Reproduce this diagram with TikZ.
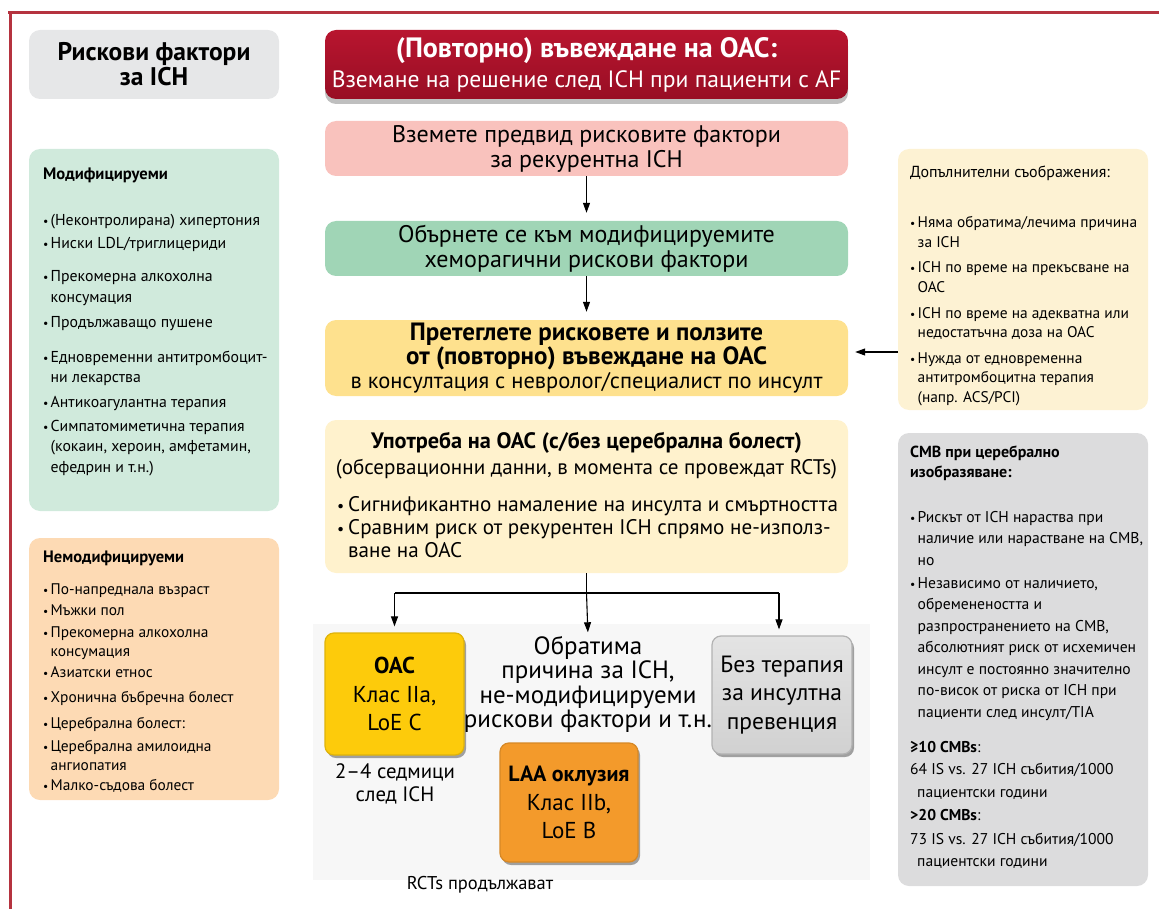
\documentclass[tikz,border=0pt]{standalone}
\usepackage{fontspec}
\setmainfont{PT Sans}
\usetikzlibrary{arrows.meta,shadows,calc}

\definecolor{framered}{HTML}{B5333F}
\definecolor{labelgray}{HTML}{E6E7E8}
\definecolor{titletop}{HTML}{B8152F}
\definecolor{titlebot}{HTML}{980E24}
\definecolor{pinkbox}{HTML}{F9C2BD}
\definecolor{greenbox}{HTML}{A0D5B6}
\definecolor{yellowbox}{HTML}{FEE18E}
\definecolor{creambox}{HTML}{FFF2CD}
\definecolor{mintbox}{HTML}{D0EADC}
\definecolor{peachbox}{HTML}{FDDAB4}
\definecolor{notebox}{HTML}{FDF2D3}
\definecolor{cmbbox}{HTML}{DCDCDD}
\definecolor{goldbox}{HTML}{FDCB0B}
\definecolor{orangebox}{HTML}{F39A2B}
\definecolor{tilegray}{HTML}{D1D1D1}

% bullet followed by a left-aligned block of lines
\newcommand\bitem[1]{\makebox[7.5pt][l]{\scalebox{0.75}{•}}\begin{tabular}[t]{@{}l@{}}#1\end{tabular}}
\newcommand\bigitem[1]{\makebox[11pt][l]{\scalebox{0.75}{•}}\begin{tabular}[t]{@{}l@{}}#1\end{tabular}}

\begin{document}
\begin{tikzpicture}[x=1pt,y=-1pt,
  panel/.style={rounded corners=11pt, inner sep=0pt, align=center},
  tile/.style={rounded corners=9pt, inner sep=0pt, align=center, line width=1.2pt,
    drop shadow={shadow xshift=2pt, shadow yshift=-3pt, opacity=0.35, fill=black}},
  listtext/.style={anchor=base west, inner sep=0pt, align=left},
  arr/.style={-{Triangle[length=10pt,width=7pt]}, line width=1.1pt},
  plain/.style={line width=1.1pt},
]
\useasboundingbox (0,0) rectangle (1159,909);

% page frame
\draw[framered, line width=3pt] (8,13) -- (1159,13);
\draw[framered, line width=3pt] (10,13) -- (10,909);

% soft backdrop behind the outcome tiles
\fill[black!3] (313,624) rectangle (870,880);

% ---------------- left column ----------------
\node[panel, fill=labelgray, minimum width=250pt, minimum height=69pt,
  font=\fontsize{25.5}{25}\selectfont\bfseries] (rf) at (154,64.5) {Рискови фактори\\за ICH};

\node[panel, fill=mintbox, minimum width=250pt, minimum height=362pt] (mod) at (154,330) {};
\begin{scope}[every node/.style={listtext, font=\fontsize{15.8}{20.5}\selectfont}]
\node (modh) at (43,180) {\fontsize{16.6}{20}\bfseries Модифицируеми};
\node (m1) at (43,226) {\bitem{(Неконтролирана) хипертония}};
\node (m2) at (43,249) {\bitem{Ниски LDL/триглицериди}};
\node (m3) at (43,282) {\bitem{Прекомерна алкохолна\\консумация}};
\node (m4) at (43,327) {\bitem{Продължаващо пушене}};
\node (m5) at (43,362) {\bitem{Едновременни антитромбоцит-\\ни лекарства}};
\node (m6) at (43,407) {\bitem{Антикоагулантна терапия}};
\node (m7) at (43,431) {\bitem{Симпатомиметична терапия\\(кокаин, хероин, амфетамин,\\ефедрин и т.н.)}};
\end{scope}

\node[panel, fill=peachbox, minimum width=250pt, minimum height=262pt] (nonmod) at (154,669) {};
\begin{scope}[every node/.style={listtext, font=\fontsize{15.4}{19}\selectfont}]
\node (nonh) at (43,562) {\fontsize{16.5}{20}\bfseries Немодифицируеми};
\node (n1) at (43,594) {\bitem{По-напреднала възраст}};
\node (n2) at (43,615) {\bitem{Мъжки пол}};
\node (n3) at (43,637) {\bitem{Прекомерна алкохолна\\консумация}};
\node (n4) at (43,677) {\bitem{Азиатски етнос}};
\node (n5) at (43,702) {\bitem{Хронична бъбречна болест}};
\node (n6) at (43,728) {\bitem{Церебрална болест:}};
\node (n7) at (43,751) {\bitem{Церебрална амилоидна\\ангиопатия}};
\node (n8) at (43,790) {\bitem{Малко-съдова болест}};
\end{scope}

% ---------------- main column ----------------
\node[panel, top color=titletop, bottom color=titlebot, text=white,
  minimum width=523pt, minimum height=69pt,
  drop shadow={shadow xshift=0pt, shadow yshift=-5pt, opacity=0.25, fill=black},
  font=\fontsize{23.6}{30}\selectfont] (title) at (586.5,64.5)
  {{\fontsize{28}{30}\bfseries (Повторно) въвеждане на ОАС:}\\Вземане на решение след ICH при пациенти с AF};

\node[panel, fill=pinkbox, minimum width=523pt, minimum height=55pt,
  font=\fontsize{24}{25}\selectfont] (pink) at (586.5,148.5)
  {Вземете предвид рисковите фактори\\за рекурентна ICH};

\node[panel, fill=greenbox, minimum width=523pt, minimum height=55pt,
  font=\fontsize{24}{25}\selectfont] (modify) at (586.5,248.5)
  {Обърнете се към модифицируемите\\хеморагични рискови фактори};

\node[panel, fill=yellowbox, minimum width=523pt, minimum height=76pt,
  font=\fontsize{22.5}{24}\selectfont] (weigh) at (586.5,358)
  {{\fontsize{25}{24}\bfseries Претеглете рисковете и ползите}\\{\fontsize{25}{24}\bfseries от (повторно) въвеждане на ОАС}\\в консултация с невролог/специалист по инсулт};

\node[panel, fill=creambox, minimum width=523pt, minimum height=153pt] (usage) at (586.5,496.5) {};
\begin{scope}[every node/.style={inner sep=0pt, font=\fontsize{21.1}{23}\selectfont}]
\node[anchor=base] (useh) at (586.5,448) {\fontsize{22.3}{23}\bfseries Употреба на ОАС (с/без церебрална болест)};
\node[anchor=base] (uses) at (586.5,474) {(обсервационни данни, в момента се провеждат RCTs)};
\node[listtext] (u1) at (337,511) {\bigitem{Сигнификантно намаление на инсулта и смъртността}};
\node[listtext] (u2) at (337,534) {\bigitem{Сравним риск от рекурентен ICH спрямо не-използ-\\ване на ОАС}};
\end{scope}

% ---------------- outcomes ----------------
\node[tile, fill=goldbox, draw=goldbox!88!black, minimum width=139pt, minimum height=122pt,
  font=\fontsize{23}{28.5}\selectfont] (oac) at (394.5,694)
  {{\fontsize{23}{28.5}\bfseries ОАС}\\Клас IIa,\\LoE C};

\node[inner sep=0pt, align=center, font=\fontsize{25}{24.3}\selectfont] (revers) at (588,684.5)
  {Обратима\\причина за ICH,\\не-модифицируеми\\рискови фактори и т.н.};

\node[tile, top color=tilegray!60, bottom color=tilegray, draw=tilegray!85!black, minimum width=140pt, minimum height=118pt,
  font=\fontsize{23.5}{28.5}\selectfont] (notx) at (782,695)
  {Без терапия\\за инсултна\\превенция};

\node[inner sep=0pt, align=center, font=\fontsize{20.8}{23}\selectfont] (weeks) at (395,783.5)
  {2–4 седмици\\след ICH};

\node[tile, fill=orangebox, draw=orangebox!88!black, minimum width=138pt, minimum height=119pt,
  font=\fontsize{23}{28.5}\selectfont] (laa) at (569,802.5)
  {{\fontsize{22}{28.5}\bfseries LAA оклузия}\\Клас IIb,\\LoE B};

\node[inner sep=0pt, font=\fontsize{18.5}{20}\selectfont] (rcts) at (480,885) {RCTs продължават};

% ---------------- right column ----------------
\node[panel, fill=notebox, minimum width=250pt, minimum height=261pt] (addl) at (1023,279.5) {};
\begin{scope}[every node/.style={listtext, font=\fontsize{15.4}{19.5}\selectfont}]
\node (addh) at (910,178) {\fontsize{16}{20}\selectfont Допълнителни съображения:};
\node (a1) at (910,228) {\bitem{Няма обратима/лечима причина\\за ICH}};
\node (a2) at (910,273) {\bitem{ICH по време на прекъсване на\\ОАС}};
\node (a3) at (910,318) {\bitem{ICH по време на адекватна или\\недостатъчна доза на ОАС}};
\node (a4) at (910,363) {\bitem{Нужда от едновременна\\антитромбоцитна терапия\\(напр. ACS/PCI)}};
\end{scope}

\node[panel, fill=cmbbox, minimum width=250pt, minimum height=453pt] (cmb) at (1023,659.5) {};
\begin{scope}[every node/.style={listtext, font=\fontsize{15.6}{21.5}\selectfont}]
\node (cmbh) at (910,457) {\fontsize{16}{20}\bfseries\begin{tabular}[t]{@{}l@{}}CMB при церебрално\\изобразяване:\end{tabular}};
\node (c1) at (910,522) {\bitem{Рискът от ICH нараства при\\наличие или нарастване на CMB,\\но}};
\node (c2) at (910,588) {\bitem{Независимо от наличието,\\обременеността и\\разпространението на CMB,\\абсолютният риск от исхемичен\\инсулт е постоянно значително\\по-висок от риска от ICH при\\пациенти след инсулт/TIA}};
\node (c3) at (910,752) {\textbf{≥10 CMBs}:};
\node (c4) at (910,774) {64 IS vs. 27 ICH събития/1000};
\node (c5) at (917,797) {пациентски години};
\node (c6) at (910,820) {\textbf{>20 CMBs}:};
\node (c7) at (910,844) {73 IS vs. 27 ICH събития/1000};
\node (c8) at (917,866) {пациентски години};
\end{scope}

% ---------------- connectors ----------------
\draw[arr, shorten >=8pt] (pink.south) -- (modify.north);
\draw[arr, shorten >=8pt] (modify.south) -- (weigh.north);

\coordinate (notein) at (898,352);
\draw[arr, shorten >=7pt] (notein) -- (notein -| weigh.east);

\coordinate (fork) at (586.5,593);
\draw[plain] (usage.south) -- (fork);
\draw[plain] (fork) -- (fork -| oac.north);
\draw[plain] (fork) -- (779,593) coordinate (forkr);
\draw[arr, shorten >=6pt] (fork -| oac.north) -- (oac.north);
\draw[arr, shorten >=4pt] (fork) -- (revers.north);
\draw[arr, shorten >=6pt] (forkr) -- (forkr |- notx.north);
\end{tikzpicture}
\end{document}
